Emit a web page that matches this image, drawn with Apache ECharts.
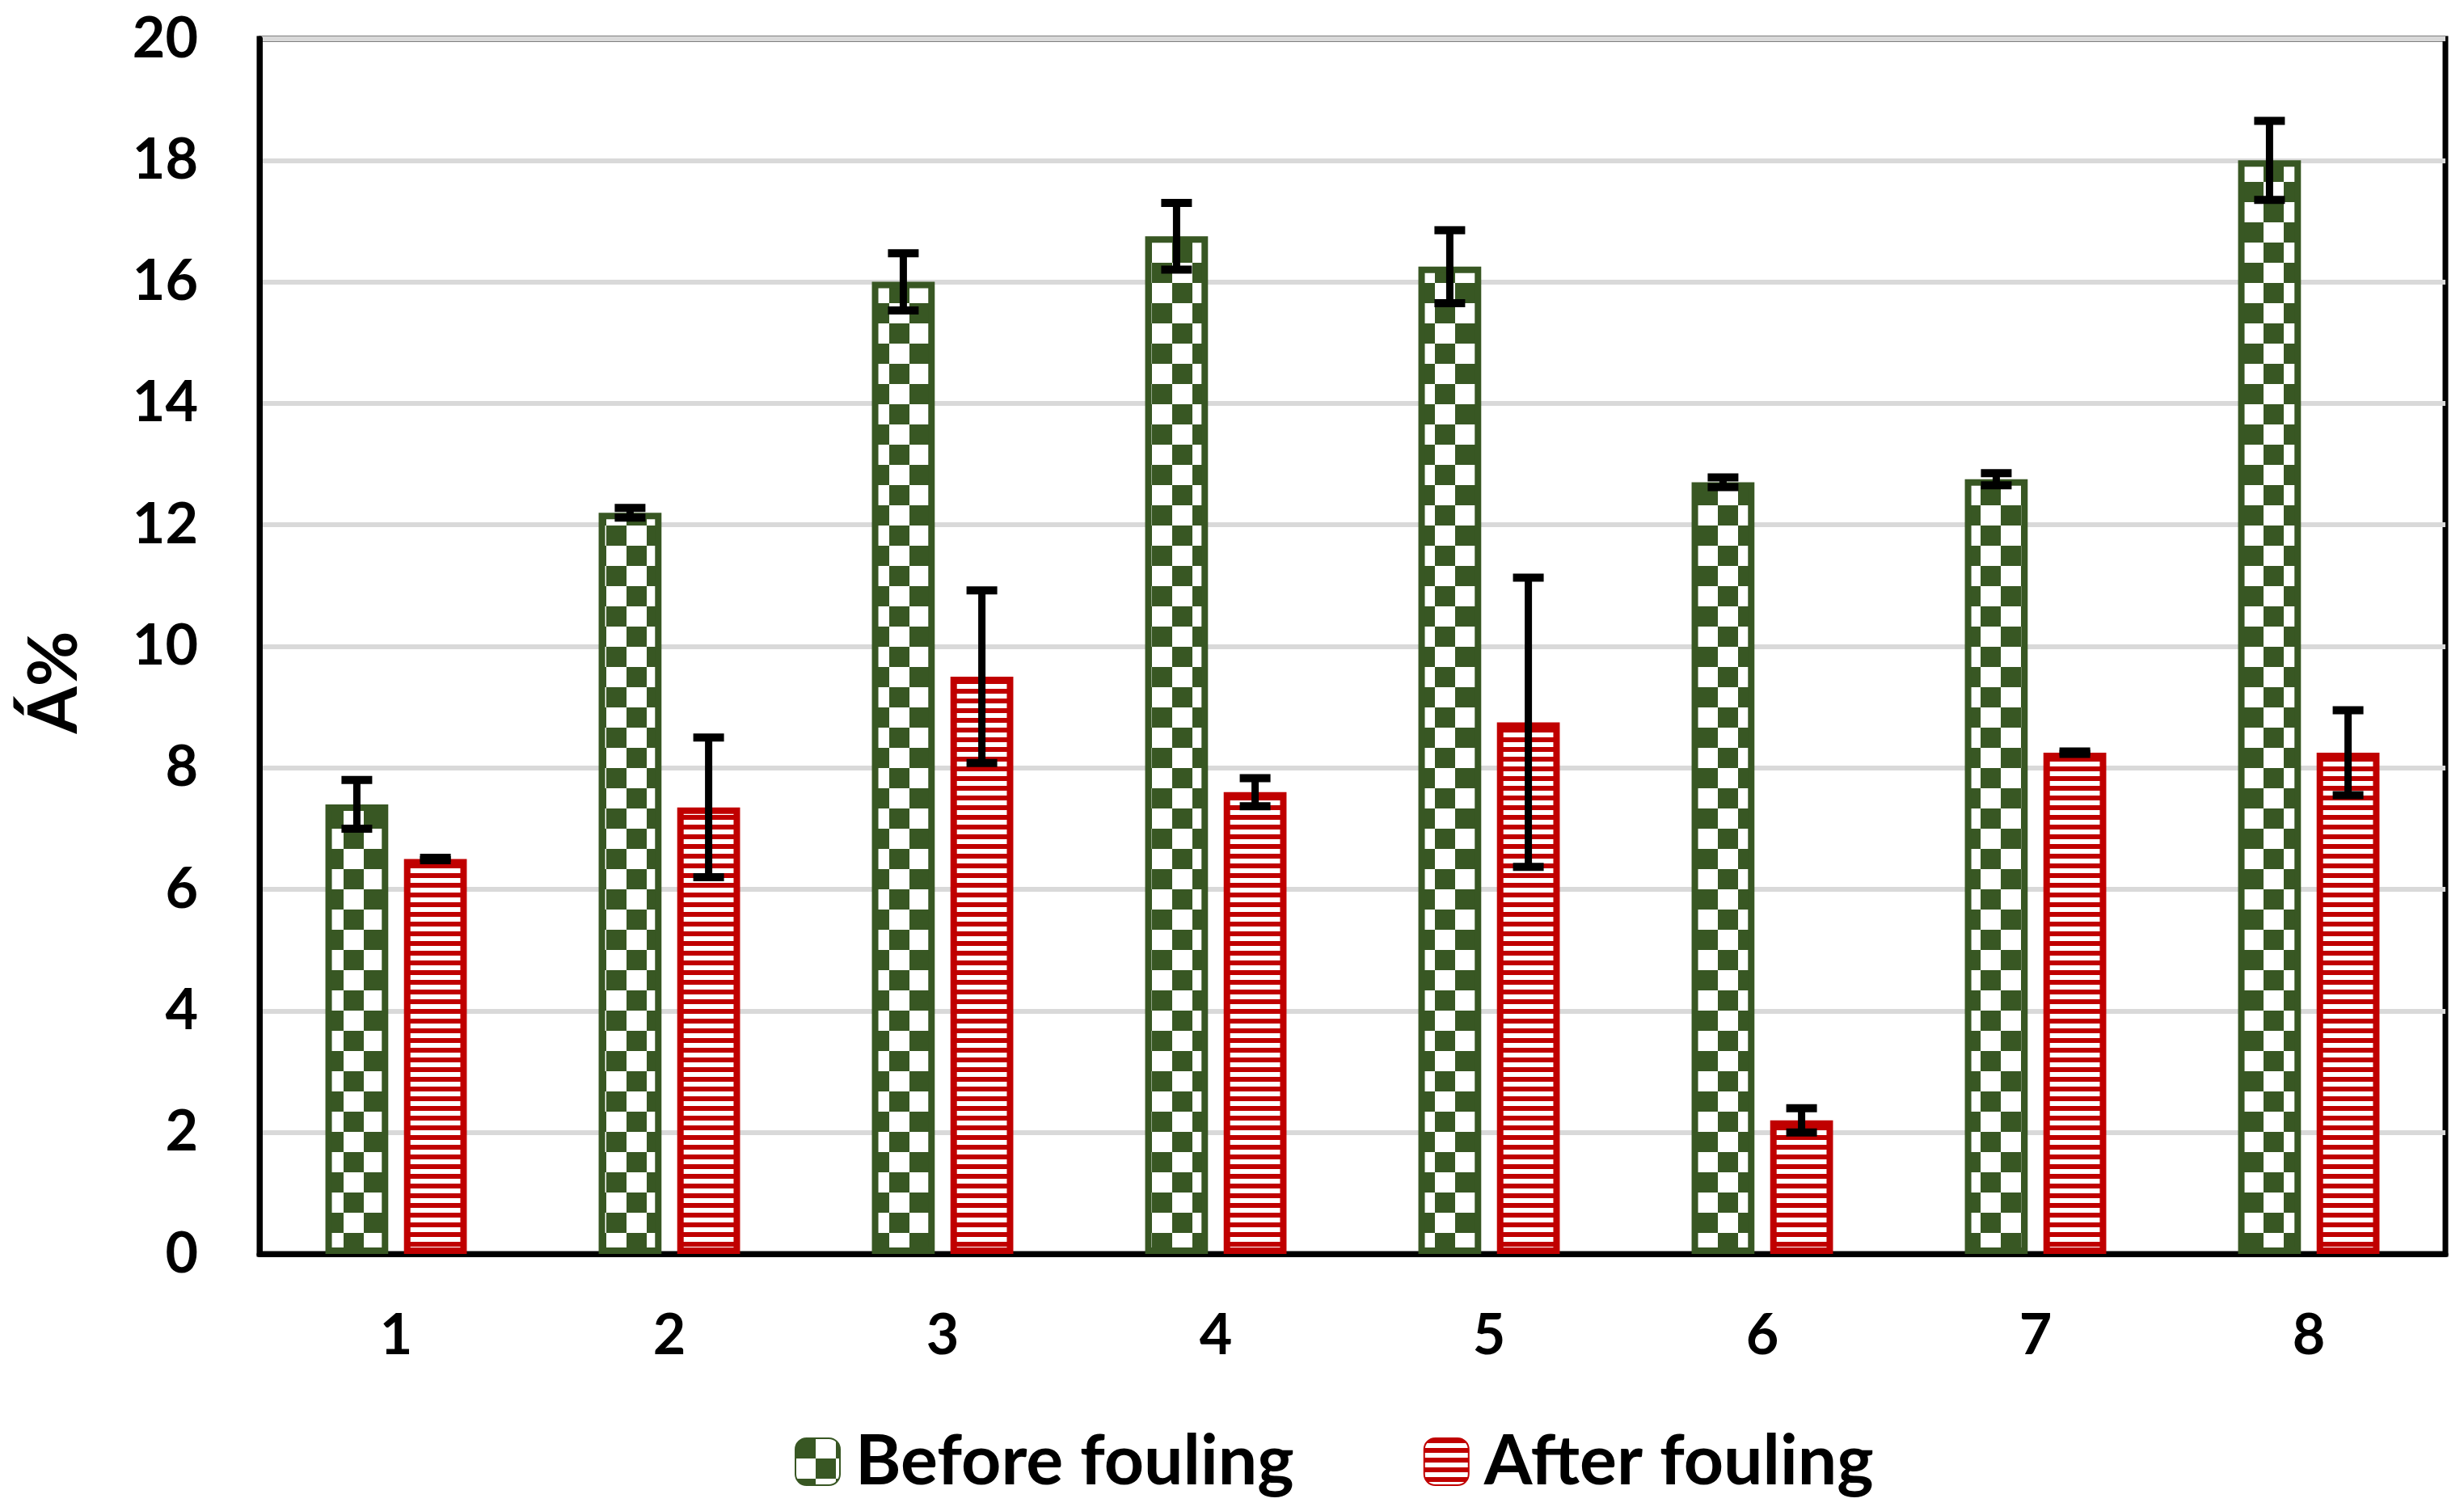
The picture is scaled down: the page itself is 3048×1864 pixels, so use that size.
<!DOCTYPE html>
<html>
<head>
<meta charset="utf-8">
<script src="https://cdn.jsdelivr.net/npm/echarts@6/dist/echarts.min.js"></script>
<style>html,body{margin:0;padding:0;background:#fff}#c{width:3048px;height:1864px}</style>
</head>
<body>
<div id="c"></div>
<script>
const categories = ['1', '2', '3', '4', '5', '6', '7', '8'];
const beforeValues = [7.4, 12.2, 16.0, 16.75, 16.25, 12.7, 12.75, 18.0];
const beforeErrors = [0.4, 0.08, 0.47, 0.55, 0.6, 0.08, 0.1, 0.65];
const afterValues = [6.5, 7.35, 9.5, 7.6, 8.75, 2.2, 8.25, 8.25];
const afterErrors = [0.02, 1.15, 1.42, 0.23, 2.38, 0.2, 0.02, 0.7];
const yTicks = [0, 2, 4, 6, 8, 10, 12, 14, 16, 18, 20];
const seriesNames = ['Before fouling', 'After fouling'];
const yTitle = 'Á%';

const GREEN = '#385723';
const RED = '#C00000';
const FONT = 'Lato';

function checker() {
  const c = document.createElement('canvas');
  const s = 25;
  c.width = s * 2; c.height = s * 2;
  const g = c.getContext('2d');
  g.fillStyle = '#fff'; g.fillRect(0, 0, 2 * s, 2 * s);
  g.fillStyle = GREEN;
  g.fillRect(0, 0, s, s); g.fillRect(s, s, s, s);
  return c;
}
function stripes() {
  const c = document.createElement('canvas');
  c.width = 12; c.height = 12;
  const g = c.getContext('2d');
  g.fillStyle = '#fff'; g.fillRect(0, 0, 12, 12);
  g.fillStyle = RED; g.fillRect(0, 0, 12, 6);
  return c;
}

const BAR_FRAC = 0.23, GAP_FRAC = 0.25;
const OFFSET = (BAR_FRAC + BAR_FRAC * GAP_FRAC) / 2;

function errData(vals, errs) {
  return vals.map((v, i) => [i, v - errs[i], v + errs[i]]);
}
function errRender(sign) {
  return function (params, api) {
    const i = api.value(0);
    const lo = api.coord([i, api.value(1)]);
    const hi = api.coord([i, api.value(2)]);
    const bw = api.size([1, 0])[0];
    const x = lo[0] + sign * OFFSET * bw;
    const half = 19;
    const st = { stroke: '#000', lineWidth: 9 };
    const cap = { stroke: '#000', lineWidth: 10 };
    return {
      type: 'group',
      children: [
        { type: 'line', shape: { x1: x, y1: lo[1], x2: x, y2: hi[1] }, style: st },
        { type: 'line', shape: { x1: x - half, y1: hi[1], x2: x + half, y2: hi[1] }, style: cap },
        { type: 'line', shape: { x1: x - half, y1: lo[1], x2: x + half, y2: lo[1] }, style: cap }
      ]
    };
  };
}

const chart = echarts.init(document.getElementById('c'), null, { renderer: 'canvas' });
chart.setOption({
  animation: false,
  backgroundColor: '#fff',
  textStyle: { fontFamily: FONT, fontWeight: 'bold', color: '#000' },
  grid: { left: 321, right: 23, top: 48, bottom: 313, show: true, borderColor: '#000', borderWidth: 7, containLabel: false },
  legend: {
    data: seriesNames,
    left: 978, top: 1760,
    itemWidth: 55, itemHeight: 58, itemGap: 160,
    textStyle: { fontFamily: FONT, fontWeight: 'bold', fontSize: 86, color: '#000', padding: [0, 0, 0, 14] },
    selectedMode: false
  },
  graphic: [{
    type: 'text', x: 68, y: 844, rotation: Math.PI / 2,
    style: { text: yTitle, fontFamily: FONT, fontWeight: 'bold', fontSize: 84, fill: '#000', align: 'center', verticalAlign: 'middle' }
  }],
  xAxis: {
    type: 'category', data: categories,
    axisLine: { show: true, lineStyle: { color: '#000', width: 7 } },
    axisTick: { show: false },
    axisLabel: { fontFamily: FONT, fontWeight: 'bold', fontSize: 70, color: '#000', margin: 66 }
  },
  yAxis: {
    type: 'value', min: yTicks[0], max: yTicks[yTicks.length - 1], interval: 2,
    axisLine: { show: true, lineStyle: { color: '#000', width: 7 } },
    axisTick: { show: false },
    splitLine: { show: true, lineStyle: { color: '#D9D9D9', width: 6 } },
    axisLabel: { fontFamily: FONT, fontWeight: 'bold', fontSize: 70, color: '#000', margin: 76 }
  },
  series: [
    {
      name: seriesNames[0], type: 'bar', data: beforeValues,
      barWidth: (BAR_FRAC * 100) + '%', barGap: (GAP_FRAC * 100) + '%',
      itemStyle: { color: { image: checker(), repeat: 'repeat' }, borderColor: GREEN, borderWidth: 8 }
    },
    {
      name: seriesNames[1], type: 'bar', data: afterValues,
      barWidth: (BAR_FRAC * 100) + '%', barGap: (GAP_FRAC * 100) + '%',
      itemStyle: { color: { image: stripes(), repeat: 'repeat' }, borderColor: RED, borderWidth: 8 }
    },
    {
      type: 'custom', renderItem: errRender(-1), data: errData(beforeValues, beforeErrors),
      encode: { x: 0, y: [1, 2] }, z: 10, silent: true
    },
    {
      type: 'custom', renderItem: errRender(1), data: errData(afterValues, afterErrors),
      encode: { x: 0, y: [1, 2] }, z: 10, silent: true
    }
  ]
});
</script>
</body>
</html>
